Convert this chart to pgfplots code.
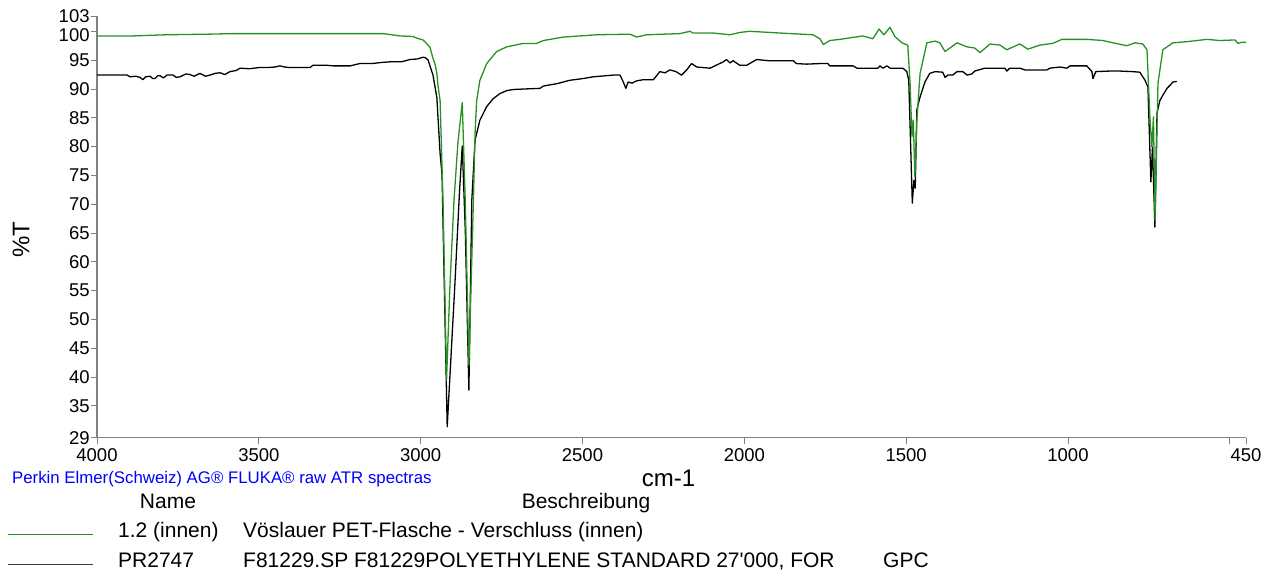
\documentclass[border=0pt]{standalone}
\usepackage{fontspec}
\setmainfont{Liberation Sans}
\newfontfamily\straight{Liberation Sans}
\usepackage{pgfplots}
\usepackage{pgfplotstable}
\pgfplotsset{compat=1.18}
\definecolor{spgreen}{RGB}{40,145,35}
\definecolor{axgray}{RGB}{128,128,128}
\definecolor{legblack}{RGB}{60,60,60}

\pgfplotstableread{
wn T
4000 99.2
3889 99.2
3784 99.4
3660 99.5
3580 99.6
3271 99.6
3116 99.6
3064 99.2
3024 99.1
3011 98.8
2993 98.5
2987 98.2
2971 97.2
2962 95.3
2956 94.4
2950 92.7
2946 90.4
2940 88.0
2931 70.67
2920 39.49
2910 55.28
2897 70.67
2885 80.60
2871.5 87.65
2862 70.17
2851 42.07
2837 70.67
2832 82.29
2827 88.0
2817 91.5
2796 94.4
2765 96.5
2734 97.3
2683 97.9
2642 97.9
2621 98.4
2559 99.0
2456 99.4
2353 99.5
2333 99.0
2302 99.4
2199 99.6
2168 100.0
2158 99.7
2097 99.7
2044 99.4
2014 99.8
1983 100.0
1890 99.7
1788 99.4
1766 98.7
1756 97.7
1736 98.4
1705 98.6
1634 99.2
1603 98.7
1584 100.4
1569 99.4
1550 100.7
1535 99.1
1513 98.0
1495 97.6
1488 91.0
1482 81.69
1478 84.57
1473 74.74
1467 84.57
1457 92.7
1436 98.0
1411 98.3
1396 98.0
1380 96.5
1365 97.1
1343 98.0
1312 97.3
1288 97.1
1272 96.3
1241 97.8
1210 97.6
1189 96.8
1149 97.8
1124 96.9
1087 97.6
1047 97.9
1019 98.6
942 98.6
892 98.4
861 98.0
818 97.5
793 98.0
769 97.8
756 96.8
747 85.17
741 79.91
736 85.17
731 67.19
722 91.0
707 96.8
676 98.0
633 98.2
571 98.6
531 98.4
484 98.5
475 97.9
463 98.1
450 98.1
}\greendata

\pgfplotstableread{
wn T
4000 92.4
3907 92.4
3898 92.1
3880 92.2
3867 92.0
3858 91.6
3850 92.1
3836 92.2
3828 91.8
3821 91.8
3812 92.3
3805 92.3
3795 91.9
3784 92.4
3765 92.4
3755 92.0
3744 92.1
3725 92.6
3713 92.5
3700 92.2
3682 92.7
3665 92.2
3651 92.4
3635 92.7
3620 92.8
3605 92.5
3589 93.0
3570 93.2
3558 93.6
3530 93.5
3500 93.7
3475 93.7
3450 93.8
3435 94.0
3420 93.8
3404 93.7
3342 93.7
3333 94.1
3290 94.1
3270 94.0
3218 94.0
3188 94.4
3150 94.4
3120 94.6
3095 94.7
3060 94.7
3033 95.1
3010 95.2
2993 95.5
2985 95.4
2977 95.0
2962 92.4
2950 88.5
2940 78.81
2934 75.14
2918 31.35
2895 55.28
2880 72.16
2871.5 80.10
2862 65.21
2851 37.70
2842 70.67
2832 81.10
2817 84.57
2796 86.94
2776 88.3
2755 89.2
2734 89.7
2714 89.9
2631 90.1
2621 90.5
2580 90.9
2539 91.5
2498 91.8
2467 92.1
2405 92.4
2384 92.4
2374 91.2
2366 90.1
2359 91.2
2347 91.0
2333 91.4
2312 91.6
2281 91.6
2261 93.0
2245 92.8
2230 93.3
2211 93.0
2194 92.4
2178 93.3
2163 94.4
2147 93.8
2106 93.6
2065 94.7
2055 95.1
2044 94.5
2035 94.9
2014 94.1
1993 94.1
1962 95.1
1926 94.9
1849 94.9
1839 94.4
1808 94.3
1766 94.4
1742 94.4
1736 94.0
1664 94.0
1652 93.6
1587 93.6
1581 94.0
1572 93.6
1559 94.0
1550 93.6
1510 93.6
1498 93.0
1492 91.5
1481 70.17
1476 74.15
1472 72.76
1467 86.36
1457 88.6
1442 91.2
1427 92.7
1411 93.0
1387 92.9
1380 92.0
1371 92.4
1356 92.4
1343 93.0
1325 93.0
1312 92.4
1297 92.6
1288 93.1
1257 93.6
1195 93.6
1189 93.1
1180 93.6
1149 93.6
1133 93.3
1065 93.3
1056 93.6
1025 93.8
1003 93.6
994 94.0
942 94.0
926 93.0
923 91.8
914 93.0
871 93.1
840 93.1
800 93.0
778 92.9
762 91.5
753 90.3
744 73.85
739 79.91
731.5 66.0
725 85.86
716 88.0
707 88.9
694 90.1
685 90.6
676 91.2
664 91.3
}\blackdata

\begin{document}
\begin{tikzpicture}[x=1bp,y=1bp]
\path[use as bounding box] (0,0) rectangle (1271,575);
\begin{axis}[
  at={(97bp,137.3bp)}, anchor=south west,
  scale only axis, width=1149bp, height=421.7bp,
  xmin=-4000, xmax=-450, ymin=29.45, ymax=102.66,
  axis lines=left,
  axis line style={-, draw=axgray, line width=1.2pt},
  xtick={-4000,-3500,-3000,-2500,-2000,-1500,-1000,-500,-450},
  xticklabels={4000,3500,3000,2500,2000,1500,1000,,450},
  ytick={29.45,35,40,45,50,55,60,65,70,75,80,85,90,95,102.66},
  yticklabels={29,35,40,45,50,55,60,65,70,75,80,85,90,95,103},
  extra y ticks={100},
  extra y tick labels={100},
  extra y tick style={yticklabel style={yshift=-4bp}},
  tick align=outside, major tick length=6bp,
  tick style={draw=axgray, line width=0.8pt},
  ticklabel style={font=\fontsize{18.5bp}{20bp}\selectfont, text=black},
  /pgf/number format/assume math mode=true,
  xticklabel style={inner sep=0pt, yshift=-4.3bp},
  yticklabel style={inner sep=0pt, xshift=-1.2bp},
]
\addplot[black, line width=1.3pt, line join=round] table[x expr=-\thisrowno{0}, y index=1] {\blackdata};
\addplot[spgreen, line width=1.3pt, line join=round] table[x expr=-\thisrowno{0}, y index=1] {\greendata};
\end{axis}

\node[rotate=90, inner sep=0, font=\fontsize{24bp}{26bp}\selectfont] at (21,335) {\%T};
\node[anchor=base, inner sep=0, font=\fontsize{24bp}{26bp}\selectfont] at (668.5,88.3) {cm-1};
\node[anchor=base west, inner sep=0, text=blue, font=\fontsize{16.8bp}{18bp}\selectfont] at (12,91.7) {Perkin Elmer(Schweiz) AG® FLUKA® raw ATR spectras};

\node[anchor=base, inner sep=0, font=\fontsize{21bp}{23bp}\selectfont] at (168,66.7) {Name};
\node[anchor=base, inner sep=0, font=\fontsize{21bp}{23bp}\selectfont] at (586,66.7) {Beschreibung};

\draw[spgreen, line width=1pt] (8,40.7) -- (93,40.7);
\node[anchor=base west, inner sep=0, font=\fontsize{21bp}{23bp}\selectfont] at (118,37) {1.2 (innen)};
\node[anchor=base west, inner sep=0, font=\fontsize{21bp}{23bp}\selectfont] at (243,37) {Vöslauer PET-Flasche - Verschluss (innen)};

\draw[legblack, line width=1pt] (8,10) -- (93,10);
\node[anchor=base west, inner sep=0, font=\fontsize{21bp}{23bp}\selectfont] at (118,7) {PR2747};
\node[anchor=base west, inner sep=0, font=\fontsize{21bp}{23bp}\straight] at (243,7) {F81229.SP F81229POLYETHYLENE STANDARD 27'000, FOR};
\node[anchor=base west, inner sep=0, font=\fontsize{21bp}{23bp}\selectfont] at (883,7) {GPC};
\end{tikzpicture}
\end{document}
